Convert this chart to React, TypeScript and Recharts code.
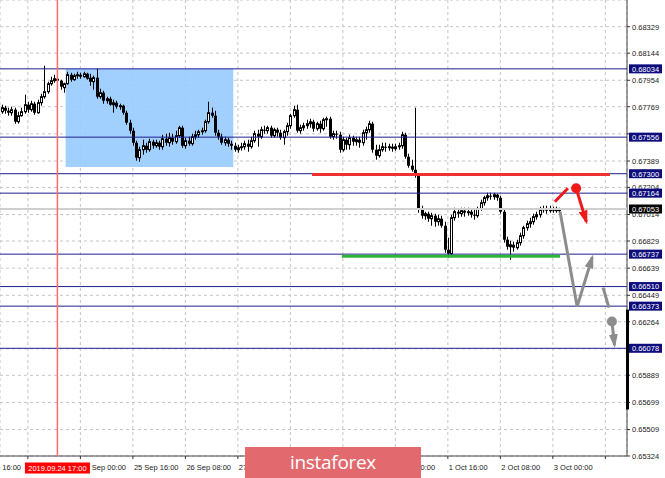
import React from "react";
import {
  ComposedChart,
  Bar,
  Line,
  XAxis,
  YAxis,
  CartesianGrid,
  ReferenceLine,
  ReferenceArea,
  ReferenceDot,
} from "recharts";

// H1 candles, prices in 1e-5 units (0.67750 -> 67750)
const opens = [
  67734, 67762, 67741, 67727, 67748, 67664, 67706, 67734, 67783, 67748,
  67790, 67727, 67797, 67839, 67874, 67930, 67951, 67965, 67951, 67902,
  67930, 67993, 67958, 67986, 67993, 67979, 68000, 67972, 67944, 67972,
  67839, 67867, 67811, 67825, 67783, 67797, 67769, 67776, 67727, 67657,
  67601, 67517, 67412, 67468, 67496, 67468, 67524, 67496, 67517, 67489,
  67545, 67517, 67552, 67524, 67566, 67622, 67496, 67531, 67510, 67559,
  67573, 67594, 67601, 67664, 67727, 67706, 67587, 67559, 67517, 67538,
  67510, 67496, 67468, 67482, 67489, 67510, 67489, 67531, 67580, 67559,
  67608, 67601, 67622, 67566, 67608, 67587, 67552, 67594, 67636, 67706,
  67748, 67601, 67622, 67636, 67650, 67664, 67615, 67650, 67615, 67678,
  67685, 67559, 67580, 67573, 67468, 67538, 67503, 67552, 67524, 67538,
  67517, 67587, 67608, 67650, 67468, 67426, 67468, 67489, 67482, 67489,
  67475, 67489, 67496, 67573, 67419, 67356, 67328, 67286, 67048, 67006,
  67020, 66985, 67006, 66964, 66985, 66936, 66768, 66740, 66992, 67034,
  67020, 67041, 67027, 67034, 67013, 67006, 67055, 67097, 67132, 67146,
  67139, 67153, 67132, 67034, 66838, 66789, 66803, 66782, 66817, 66866,
  66922, 66950, 66964, 66999, 67013, 67048, 67055, 67041, 67055, 67041,
  67048,
];
const highs = [
  67783, 67776, 67762, 67769, 67762, 67734, 67762, 67853, 67804, 67811,
  67804, 67818, 67860, 68056, 67944, 67979, 67993, 67972, 67958, 67937,
  68014, 68007, 68000, 68014, 68007, 68014, 68007, 68000, 67986, 68035,
  67895, 67881, 67839, 67839, 67818, 67811, 67790, 67783, 67741, 67678,
  67622, 67531, 67489, 67538, 67517, 67545, 67538, 67538, 67531, 67573,
  67580, 67587, 67580, 67601, 67636, 67636, 67552, 67559, 67580, 67601,
  67608, 67622, 67678, 67804, 67762, 67741, 67608, 67580, 67559, 67552,
  67531, 67517, 67503, 67517, 67531, 67538, 67559, 67601, 67608, 67629,
  67636, 67636, 67636, 67622, 67622, 67608, 67608, 67657, 67720, 67776,
  67783, 67643, 67657, 67678, 67685, 67678, 67664, 67671, 67692, 67699,
  67699, 67601, 67601, 67594, 67559, 67552, 67573, 67566, 67559, 67559,
  67608, 67629, 67671, 67664, 67503, 67503, 67517, 67517, 67510, 67510,
  67510, 67517, 67594, 67587, 67440, 67398, 67762, 67300, 67076, 67034,
  67034, 67027, 67020, 67013, 67006, 66964, 66852, 67013, 67062, 67055,
  67062, 67062, 67062, 67055, 67048, 67069, 67118, 67146, 67167, 67167,
  67167, 67160, 67146, 67048, 66859, 66831, 66824, 66838, 66887, 66936,
  66971, 66992, 67020, 67034, 67069, 67076, 67076, 67076, 67069, 67069,
  67062,
];
const lows = [
  67720, 67720, 67706, 67706, 67650, 67650, 67699, 67720, 67727, 67734,
  67713, 67720, 67776, 67825, 67860, 67916, 67937, 67937, 67888, 67867,
  67923, 67944, 67951, 67965, 67965, 67972, 67958, 67916, 67888, 67825,
  67825, 67790, 67790, 67776, 67727, 67755, 67748, 67713, 67643, 67580,
  67496, 67391, 67384, 67433, 67447, 67454, 67475, 67482, 67468, 67468,
  67496, 67489, 67503, 67510, 67552, 67482, 67475, 67496, 67496, 67538,
  67552, 67573, 67587, 67650, 67692, 67566, 67538, 67503, 67496, 67489,
  67468, 67454, 67447, 67461, 67468, 67454, 67475, 67517, 67489, 67545,
  67580, 67580, 67552, 67552, 67559, 67538, 67503, 67566, 67615, 67692,
  67587, 67580, 67601, 67615, 67622, 67594, 67601, 67587, 67601, 67629,
  67545, 67538, 67545, 67447, 67454, 67468, 67468, 67496, 67496, 67482,
  67496, 67538, 67587, 67447, 67398, 67412, 67454, 67454, 67461, 67454,
  67461, 67468, 67475, 67405, 67342, 67314, 67272, 67027, 66985, 66978,
  66964, 66936, 66929, 66936, 66922, 66747, 66712, 66726, 66971, 66992,
  66999, 66999, 67006, 66992, 66978, 66992, 67041, 67076, 67111, 67118,
  67118, 67111, 67020, 66817, 66768, 66698, 66754, 66768, 66796, 66845,
  66901, 66922, 66943, 66978, 66992, 67027, 67020, 67027, 67027, 67027,
  67034,
];
const closes = [
  67762, 67741, 67727, 67748, 67664, 67706, 67734, 67783, 67748, 67790,
  67727, 67797, 67839, 67874, 67930, 67951, 67965, 67951, 67909, 67930,
  67993, 67958, 67986, 67993, 67979, 68000, 67965, 67944, 67972, 67839,
  67867, 67811, 67825, 67783, 67797, 67769, 67776, 67727, 67657, 67601,
  67517, 67412, 67468, 67496, 67468, 67524, 67496, 67517, 67489, 67545,
  67517, 67552, 67524, 67566, 67622, 67496, 67531, 67510, 67559, 67573,
  67594, 67601, 67664, 67727, 67706, 67587, 67559, 67517, 67538, 67510,
  67496, 67468, 67482, 67489, 67510, 67489, 67531, 67580, 67559, 67608,
  67601, 67622, 67566, 67608, 67587, 67552, 67594, 67636, 67706, 67748,
  67601, 67622, 67636, 67650, 67664, 67615, 67650, 67615, 67678, 67685,
  67559, 67580, 67573, 67468, 67538, 67503, 67552, 67524, 67538, 67517,
  67587, 67608, 67650, 67468, 67426, 67468, 67489, 67482, 67489, 67475,
  67489, 67496, 67573, 67419, 67356, 67328, 67286, 67048, 67006, 67020,
  66985, 67006, 66964, 66985, 66936, 66768, 66740, 66992, 67034, 67020,
  67041, 67027, 67034, 67013, 67006, 67055, 67097, 67132, 67146, 67139,
  67153, 67132, 67034, 66838, 66789, 66803, 66782, 66817, 66866, 66922,
  66950, 66964, 66999, 67013, 67048, 67055, 67041, 67055, 67041, 67048,
  67048,
];

// time axis: tick positions (bar index) and their labels; labels hidden
// behind the crosshair tag and the watermark are left blank
const tickIdx = [-8, 8, 24, 40, 56, 72, 88, 104, 120, 136, 152, 168, 184];
const tickText = [
  "23 Sep 16:00", "", "25 Sep 00:00", "25 Sep 16:00", "26 Sep 08:00",
  "27 Sep 00:00", "", "", "1 Oct 00:00", "1 Oct 16:00",
  "2 Oct 08:00", "3 Oct 00:00", "",
];
const yTicks = [
  68329, 68144, 67954, 67769, 67579, 67389, 67204, 67014, 66829,
  66639, 66449, 66264, 66074, 65889, 65699, 65509, 65324,
];
const levels = [68034, 67556, 67300, 67164, 66737, 66510, 66373, 66078];
const bidPrice = 67053;
const cursorIdx = 17;
const cursorText = "2019.09.24 17:00";
const zoneIdx = [19.5, 70.6];
const zonePrice = [67347, 68034];
const scrollBar = [66349, 65650];

// hand-drawn objects (i = bar index, p = price)
const redLevel = [{ i: 94.6, p: 67295 }, { i: 185.4, p: 67295 }];
const greenLevel = [{ i: 103.7, p: 66722 }, { i: 170.2, p: 66722 }];
const redStroke = [{ i: 168.6, p: 67104 }, { i: 172.6, p: 67198 }];
const redArrow = [{ i: 175.1, p: 67198 }, { i: 178.2, p: 66965 }];
const grayPath = [{ i: 170.2, p: 67034 }, { i: 175.4, p: 66370 }, { i: 180.0, p: 66715 }];
const grayStroke = [{ i: 183.3, p: 66503 }, { i: 185.1, p: 66363 }];
const grayArrow = [{ i: 186.0, p: 66265 }, { i: 186.8, p: 66100 }];

const candles = opens.map((o, i) => ({ i, o, h: highs[i], l: lows[i], c: closes[i] }));

const FONT = "'Liberation Sans', Arial, sans-serif";
const fmt = (v: number) => (v / 100000).toFixed(5);

// tick labels that sit under a price tag on the right scale
const tagged = [...levels, bidPrice];
const underTag = (v: number) => tagged.some((t) => Math.abs(t - v) < 30);

function Candle(props: any) {
  const { x, y, width, height, payload } = props;
  if (!payload || height == null) return null;
  const top = Math.min(y, y + height);
  const bot = Math.max(y, y + height);
  const span = payload.h - payload.l || 1;
  const py = (v: number) => top + ((payload.h - v) / span) * (bot - top);
  const cx = Math.round(x + width / 2) + 0.5;
  const yo = py(payload.o);
  const yc = py(payload.c);
  const bTop = Math.min(yo, yc);
  const bH = Math.max(1, Math.abs(yc - yo));
  const bull = payload.c >= payload.o;
  return (
    <g>
      <line x1={cx} x2={cx} y1={top} y2={bot} stroke="#000" strokeWidth={1} />
      {bull ? (
        <rect x={cx - 1} y={bTop} width={2} height={bH} fill="#fff" stroke="#000" strokeWidth={1} />
      ) : (
        <rect x={cx - 1.5} y={bTop} width={3} height={bH} fill="#000" />
      )}
    </g>
  );
}

function TimeTick(props: any) {
  const { x, y, payload } = props;
  const k = tickIdx.indexOf(payload.value);
  const label = k >= 0 ? tickText[k] : "";
  return (
    <g>
      <line x1={x} x2={x} y1={y} y2={y + 3} stroke="#333" />
      {label ? (
        <text x={x + 1} y={y + 14} fontSize={7.5} fontFamily={FONT} fill="#1a1a1a" textAnchor="start">
          {label}
        </text>
      ) : null}
    </g>
  );
}

function PriceTick(props: any) {
  const { x, y, payload } = props;
  return (
    <g>
      <line x1={x} x2={x + 3} y1={y} y2={y} stroke="#333" />
      {underTag(payload.value) ? null : (
        <text x={x + 5} y={y + 2.8} fontSize={7.5} fontFamily={FONT} fill="#1a1a1a">
          {fmt(payload.value)}
        </text>
      )}
    </g>
  );
}

function LevelTag(props: any) {
  const { viewBox, tag, bg } = props;
  if (!viewBox) return null;
  const x = viewBox.x + viewBox.width + 2;
  const y = viewBox.y;
  return (
    <g>
      <rect x={x} y={y - 4.5} width={33} height={9} fill={bg} />
      <text x={x + 16.5} y={y + 2.8} textAnchor="middle" fontSize={7.5} fontFamily={FONT} fill="#fff">
        {tag}
      </text>
    </g>
  );
}

function CursorTag(props: any) {
  const { viewBox, tag } = props;
  if (!viewBox) return null;
  const x = viewBox.x;
  const y = viewBox.y + viewBox.height;
  return (
    <g>
      <rect x={x - 32.5} y={y + 6.5} width={65} height={11} fill="#ff0000" />
      <text x={x} y={y + 14.8} textAnchor="middle" fontSize={7.5} fontFamily={FONT} fill="#fff">
        {tag}
      </text>
    </g>
  );
}

export default function App() {
  // tags above the price scale, drawn objects above the tagged levels
  const tagLayer: any = { zIndex: 2600 };
  const objLayer: any = { zIndex: 2700 };
  const plain = { dot: false, activeDot: false, isAnimationActive: false, strokeWidth: 3 } as const;
  return (
    <div style={{ position: "absolute", left: 0, top: 0, width: 665, height: 478, background: "#fff", overflow: "hidden" }}>
      <svg width={0} height={0} style={{ position: "absolute" }}>
        <defs>
          <marker id="headGray" viewBox="0 0 14 9" refX={11} refY={4.5} markerWidth={14} markerHeight={9}
            markerUnits="userSpaceOnUse" orient="auto">
            <path d="M0,0 L14,4.5 L0,9 z" fill="#8c8c8c" />
          </marker>
          <marker id="headRed" viewBox="0 0 14 9" refX={11} refY={4.5} markerWidth={14} markerHeight={9}
            markerUnits="userSpaceOnUse" orient="auto">
            <path d="M0,0 L14,4.5 L0,9 z" fill="#f01818" />
          </marker>
        </defs>
      </svg>
      <ComposedChart width={665} height={478} data={candles} margin={{ top: 0, right: 0, left: 0, bottom: 0 }}>
        <CartesianGrid stroke="#c4c4c4" strokeDasharray="3 3" />
        <XAxis
          type="number"
          dataKey="i"
          domain={[-0.5, 190.6]}
          allowDataOverflow
          ticks={tickIdx}
          interval={0}
          tick={<TimeTick />}
          tickLine={false}
          tickSize={0}
          tickMargin={0}
          height={22}
          axisLine={{ stroke: "#444" }}
        />
        <YAxis
          orientation="right"
          type="number"
          domain={[65324, 68516]}
          allowDataOverflow
          ticks={yTicks}
          interval={0}
          tick={<PriceTick />}
          tickLine={false}
          tickSize={0}
          tickMargin={0}
          width={38}
          axisLine={{ stroke: "#444" }}
        />
        <ReferenceArea
          x1={zoneIdx[0]}
          x2={zoneIdx[1]}
          y1={zonePrice[0]}
          y2={zonePrice[1]}
          fill="#99ccff"
          fillOpacity={0.92}
          stroke="none"
        />
        <ReferenceLine
          y={bidPrice}
          stroke="#cfcfcf"
          strokeWidth={2}
          {...tagLayer}
          label={<LevelTag tag={fmt(bidPrice)} bg="#000" />}
        />
        {levels.map((v) => (
          <ReferenceLine
            key={v}
            y={v}
            stroke="#1e1e8e"
            strokeWidth={1}
            {...tagLayer}
            label={<LevelTag tag={fmt(v)} bg="#0c0c7c" />}
          />
        ))}
        <ReferenceLine x={cursorIdx} stroke="#ff6a6a" strokeWidth={1.5} {...tagLayer} label={<CursorTag tag={cursorText} />} />
        <Bar dataKey={(d: any) => [d.l, d.h]} barSize={3} isAnimationActive={false} shape={(p: any) => <Candle {...p} />} />
        <Line data={redLevel} dataKey="p" stroke="#f03030" {...plain} {...objLayer} />
        <Line data={greenLevel} dataKey="p" stroke="#2fb53a" {...plain} {...objLayer} />
        <Line data={grayPath} dataKey="p" stroke="#8c8c8c" {...plain} {...objLayer} markerEnd="url(#headGray)" />
        <Line data={grayStroke} dataKey="p" stroke="#8c8c8c" {...plain} {...objLayer} />
        <Line data={grayArrow} dataKey="p" stroke="#8c8c8c" {...plain} {...objLayer} markerEnd="url(#headGray)" />
        <Line data={redStroke} dataKey="p" stroke="#f01818" {...plain} {...objLayer} />
        <Line data={redArrow} dataKey="p" stroke="#f01818" {...plain} {...objLayer} markerEnd="url(#headRed)" />
        <ReferenceDot x={redArrow[0].i} y={redArrow[0].p} r={5} fill="#f01818" stroke="none" {...objLayer} />
        <ReferenceDot x={grayArrow[0].i} y={grayArrow[0].p} r={5} fill="#8c8c8c" stroke="none" {...objLayer} />
        <ReferenceLine
          segment={[{ x: 190.75, y: scrollBar[0] }, { x: 190.75, y: scrollBar[1] }]}
          stroke="#000"
          strokeWidth={3}
          ifOverflow="visible"
          {...objLayer}
        />
      </ComposedChart>
      <div
        style={{
          position: "absolute",
          left: 245,
          top: 447,
          width: 176,
          height: 31,
          background: "#e26a6e",
          color: "#fff",
          fontFamily: "'Open Sans', sans-serif",
          fontSize: 19,
          lineHeight: "31px",
          textAlign: "center",
          letterSpacing: -0.3,
        }}
      >
        instaforex
      </div>
    </div>
  );
}
